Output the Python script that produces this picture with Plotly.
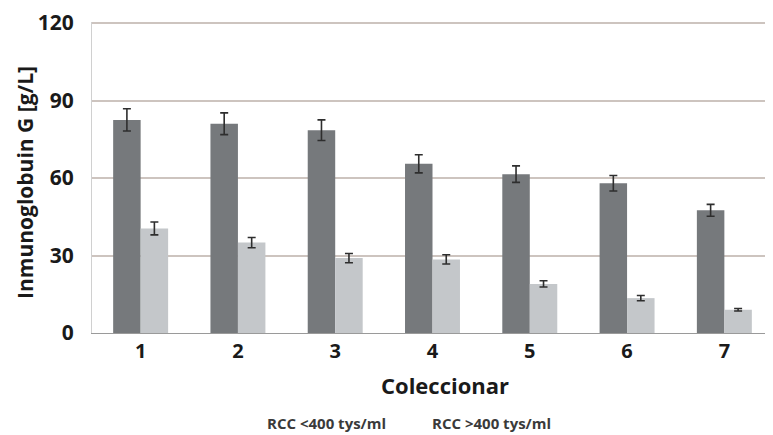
import plotly.graph_objects as go

categories = ["1", "2", "3", "4", "5", "6", "7"]
low_rcc = [82.5, 81, 78.5, 65.5, 61.5, 58, 47.5]
low_rcc_err = [4.3, 4.2, 4.0, 3.5, 3.2, 3.0, 2.3]
high_rcc = [40.5, 35, 29, 28.5, 19, 13.5, 9]
high_rcc_err = [2.5, 2.0, 1.8, 1.8, 1.2, 1.0, 0.5]
series_names = ["RCC <400 tys/ml", "RCC >400 tys/ml"]
y_ticks = [0, 30, 60, 90, 120]
x_title = "Coleccionar"
y_title = "Inmunoglobuin G [g/L]"

font = "Open Sans"
OFF = 8  # page body margin
W, H = 765, 427
L, R, T, B = 84, 0, 12, 102
PW, PH = W - L - R, H - T - B


def px_to_paper(x, y):
    fx, fy = x - OFF, y - OFF
    return (fx - L) / PW, (H - B - fy) / PH


fig = go.Figure()
fig.add_trace(go.Bar(
    x=categories, y=low_rcc, name=series_names[0],
    marker=dict(color="#76797c", line=dict(width=0)),
    error_y=dict(type="data", array=low_rcc_err, color="#2e2e2e", thickness=1.6, width=4),
))
fig.add_trace(go.Bar(
    x=categories, y=high_rcc, name=series_names[1],
    marker=dict(color="#c4c7ca", line=dict(width=0)),
    error_y=dict(type="data", array=high_rcc_err, color="#2e2e2e", thickness=1.6, width=4),
))

fig.update_layout(
    width=W, height=H,
    margin=dict(l=L, r=R, t=T, b=B),
    paper_bgcolor="white", plot_bgcolor="white",
    barmode="group", bargap=0.435, bargroupgap=0,
    showlegend=False,
    font=dict(family=font, color="#1a1a1a"),
    xaxis=dict(
        tickfont=dict(size=20, family=font, color="#1a1a1a", weight="bold"),
        ticks="", showline=True, linecolor="#9a9a9a", linewidth=1,
    ),
    yaxis=dict(
        range=[0, 120.4], tickvals=y_ticks,
        tickfont=dict(size=21, family=font, color="#1a1a1a", weight="bold"),
        ticklabelstandoff=13, ticklabeloverflow="allow",
        showgrid=True, gridcolor="#cdc4bf", gridwidth=1.5,
        zeroline=False, showline=True, linecolor="#d0d0d0", linewidth=1,
        ticks="",
    ),
)

# axis titles
ax, ay = px_to_paper(445, 385)
fig.add_annotation(text=x_title, x=ax, y=ay, xref="paper", yref="paper", showarrow=False,
                   font=dict(size=22, family=font, color="#1a1a1a", weight="bold"),
                   xanchor="center", yanchor="middle")
ax, ay = px_to_paper(25, 182)
fig.add_annotation(text=y_title, x=ax, y=ay, xref="paper", yref="paper", showarrow=False,
                   textangle=-90,
                   font=dict(size=21, family=font, color="#1a1a1a", weight="bold"),
                   xanchor="center", yanchor="middle")

# legend labels (text only)
for name, xpx in zip(series_names, [326, 491]):
    ax, ay = px_to_paper(xpx, 424)
    fig.add_annotation(
        text=name, x=ax, y=ay, xref="paper", yref="paper", showarrow=False,
        font=dict(size=15, family=font, color="#3a3a3a", weight="bold"),
        xanchor="center", yanchor="middle",
    )

fig.write_html("out.html")
